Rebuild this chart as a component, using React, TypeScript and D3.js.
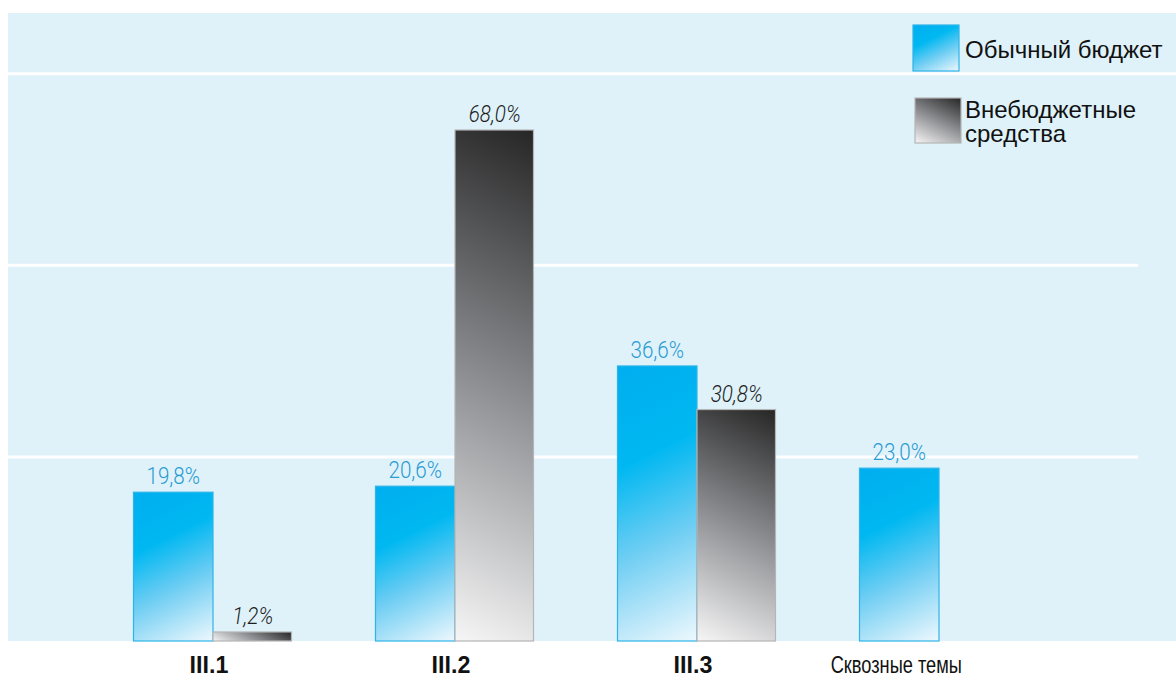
import React from "react";
import * as d3 from "d3";

const categories = ["III.1", "III.2", "III.3", "Сквозные темы"];
const regularBudget = [19.8, 20.6, 36.6, 23.0];
const extraBudget: (number | null)[] = [1.2, 68.0, 30.8, null];
const regularLabels = ["19,8%", "20,6%", "36,6%", "23,0%"];
const extraLabels = ["1,2%", "68,0%", "30,8%", ""];
const boldCategory = [true, true, true, false];
const gridValues = [24.5, 50, 75.5];
const legendItems = [["Обычный бюджет"], ["Внебюджетные", "средства"]];

const W = 1176;
const H = 677;
const BASE = 641;
const SANS = "'Liberation Sans', Arial, Helvetica, sans-serif";
const LIGHT = "Roboto, 'Noto Sans', sans-serif";

const blueStops: [number, string][] = [
  [0, "#00aeef"],
  [0.33, "#00b8f1"],
  [0.62, "#6dcdf3"],
  [1, "#eef8fd"],
];
const grayStops: [number, string][] = [
  [0, "#262626"],
  [0.5, "#8c8d91"],
  [1, "#f6f6f6"],
];

// gradient at a fixed angle in user space, stretched to cover the rectangle
function angledGradient(id: string, x0: number, y0: number, w: number, h: number, dx: number, dy: number, stops: [number, string][]) {
  const len = Math.hypot(dx, dy);
  const ux = dx / len;
  const uy = dy / len;
  const corners = [
    [x0, y0],
    [x0 + w, y0],
    [x0, y0 + h],
    [x0 + w, y0 + h],
  ];
  const proj = corners.map(([cx, cy]) => cx * ux + cy * uy);
  const mn = Math.min(...proj);
  const mx = Math.max(...proj);
  const p1 = corners[proj.indexOf(mn)];
  const r = mx - mn;
  return (
    <linearGradient key={id} id={id} gradientUnits="userSpaceOnUse" x1={p1[0]} y1={p1[1]} x2={p1[0] + ux * r} y2={p1[1] + uy * r}>
      {stops.map(([o, c], i) => (
        <stop key={i} offset={o} stopColor={c} />
      ))}
    </linearGradient>
  );
}

export default function App() {
  const x = d3.scaleBand<string>().domain(categories).range([92, 92 + 242 * 4]).paddingInner(0).paddingOuter(0);
  const y = d3.scaleLinear().domain([0, 68]).range([BASE, 130]);
  const barW = 79.5;

  const gradients: React.ReactNode[] = [];
  categories.forEach((c, i) => {
    const cx = (x(c) as number) + x.bandwidth() / 2;
    const v = regularBudget[i];
    gradients.push(angledGradient(`b${i}`, cx - barW, y(v), barW, BASE - y(v), 0.5, 1, blueStops));
    const e = extraBudget[i];
    if (e !== null) gradients.push(angledGradient(`g${i}`, cx, y(e), barW - 1, BASE - y(e), -0.5, 1, grayStops));
  });
  gradients.push(angledGradient("lb", 913, 25, 46, 46, 0.5, 1, blueStops));
  gradients.push(angledGradient("lg", 915, 98, 46, 45, -0.5, 1, grayStops));

  return (
    <svg width={W} height={H} style={{ position: "fixed", left: 0, top: 0, background: "#fff" }}>
      <defs>{gradients}</defs>
      <rect x={8} y={13} width={W - 8} height={BASE - 13} fill="#dff2fa" />
      {gridValues.map((g, i) => (
        <line
          key={i}
          x1={8}
          x2={i === gridValues.length - 1 ? W : 1138}
          y1={y(g)}
          y2={y(g)}
          stroke="#ffffff"
          strokeWidth={3}
        />
      ))}
      {categories.map((c, i) => {
        const cx = (x(c) as number) + x.bandwidth() / 2;
        const v = regularBudget[i];
        const e = extraBudget[i];
        const lx = boldCategory[i] ? cx - 4 : cx - barW / 2 - 3;
        return (
          <g key={c}>
            <rect
              x={cx - barW}
              y={y(v)}
              width={barW}
              height={BASE - y(v)}
              fill={`url(#b${i})`}
              stroke="#2db4ea"
              strokeWidth={1.2}
            />
            <text
              transform={`translate(${cx - barW / 2},${y(v) - 8}) scale(0.86,1)`}
              textAnchor="middle"
              fontFamily={LIGHT}
              fontWeight={300}
              fontSize={24}
              fill="#2a9bd3"
            >
              {regularLabels[i]}
            </text>
            {e !== null && (
              <>
                <rect
                  x={cx}
                  y={y(e)}
                  width={barW - 1}
                  height={BASE - y(e)}
                  fill={`url(#g${i})`}
                  stroke="#b5b5b5"
                  strokeWidth={1.2}
                />
                <text
                  transform={`translate(${cx + barW / 2},${y(e) - 8}) scale(0.86,1)`}
                  textAnchor="middle"
                  fontFamily={LIGHT}
                  fontWeight={300}
                  fontStyle="italic"
                  fontSize={24}
                  fill="#1e1e1e"
                >
                  {extraLabels[i]}
                </text>
              </>
            )}
            <text
              transform={`translate(${lx},673) scale(${boldCategory[i] ? 0.97 : 0.76},1)`}
              textAnchor="middle"
              fontFamily={SANS}
              fontWeight={boldCategory[i] ? "bold" : "normal"}
              fontSize={24}
              fill="#111"
            >
              {c}
            </text>
          </g>
        );
      })}
      {legendItems.map((lines, i) => {
        const ly = i === 0 ? 25 : 98;
        return (
          <g key={i}>
            <rect
              x={913 + i * 2}
              y={ly}
              width={46}
              height={i === 0 ? 46 : 45}
              fill={i === 0 ? "url(#lb)" : "url(#lg)"}
              stroke={i === 0 ? "#2db4ea" : "#b5b5b5"}
              strokeWidth={1.2}
            />
            {lines.map((t, j) => (
              <text key={j} x={965} y={i === 0 ? 58 : 118 + j * 24} fontFamily={SANS} fontSize={24} fill="#111">
                {t}
              </text>
            ))}
          </g>
        );
      })}
    </svg>
  );
}
